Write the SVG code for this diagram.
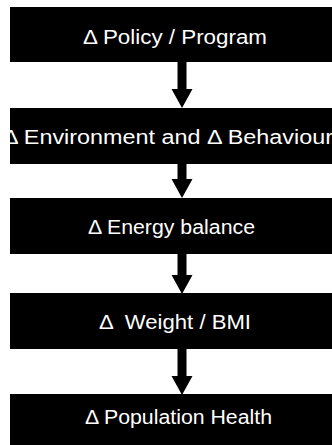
<svg xmlns="http://www.w3.org/2000/svg" width="332" height="445" viewBox="0 0 332 445">
  <style>
    .box { fill: #000; }
    .lbl { fill: #fff; font-family: "Liberation Sans", Arial, Helvetica, sans-serif; font-size: 19.5px; text-anchor: middle; }
    .arrow { fill: #000; }
  </style>
  <rect width="332" height="445" fill="#fff"/>

  <!-- thick downward arrows: shaft plus triangular head -->
  <g id="connectors" class="arrow">
    <path d="M 177.5 62 L 186.5 62 L 186.5 89 L 192.5 89 L 182 108 L 171.5 89 L 177.5 89 Z"/>
    <path d="M 177.5 164 L 186.5 164 L 186.5 179 L 192.5 179 L 182 198 L 171.5 179 L 177.5 179 Z"/>
    <path d="M 177.5 254 L 186.5 254 L 186.5 275 L 192.5 275 L 182 294 L 171.5 275 L 177.5 275 Z"/>
    <path d="M 177.5 349 L 186.5 349 L 186.5 376 L 192.5 376 L 182 395 L 171.5 376 L 177.5 376 Z"/>
  </g>

  <g id="policy">
    <rect class="box" x="10" y="7" width="330" height="55"/>
    <text class="lbl" x="175" y="44" textLength="184" lengthAdjust="spacingAndGlyphs">Δ Policy / Program</text>
  </g>

  <g id="environment">
    <rect class="box" x="10" y="108" width="330" height="56"/>
    <text class="lbl" x="168" y="144" textLength="330" lengthAdjust="spacingAndGlyphs">Δ Environment and Δ Behaviour</text>
  </g>

  <g id="energy">
    <rect class="box" x="10" y="198" width="330" height="56"/>
    <text class="lbl" x="171.5" y="234" textLength="167" lengthAdjust="spacingAndGlyphs">Δ Energy balance</text>
  </g>

  <g id="weight">
    <rect class="box" x="10" y="293" width="330" height="56"/>
    <text class="lbl" x="175" y="329" textLength="152" lengthAdjust="spacingAndGlyphs" xml:space="preserve">Δ  Weight / BMI</text>
  </g>

  <g id="health">
    <rect class="box" x="10" y="394" width="330" height="60"/>
    <text class="lbl" x="178.5" y="424" textLength="187" lengthAdjust="spacingAndGlyphs">Δ Population Health</text>
  </g>
</svg>
